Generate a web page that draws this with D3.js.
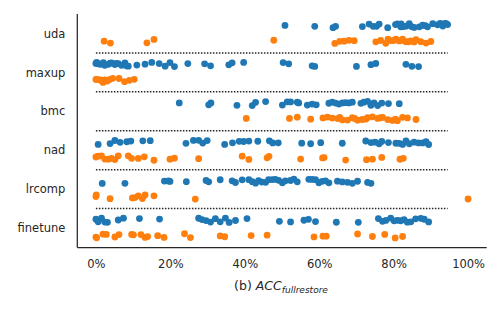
<!DOCTYPE html>
<html><head><meta charset="utf-8">
<script src="https://cdn.jsdelivr.net/npm/d3@7"></script>
<style>body{margin:0;background:#fff}svg{display:block}</style>
</head><body>
<svg id="c" width="500" height="309"></svg>
<script>
const categories = ["uda","maxup","bmc","nad","lrcomp","finetune"];
const seriesNames = ["blue","orange"];
const xTicks = [0,0.2,0.4,0.6,0.8,1.0];
// values in percent
const udaBlue = [50.8,58.8,63.7,64.4,71.6,73.4,74.5,75.4,76.1,78.4,80.5,81,81.9,82,82.5,83.3,84.2,84.8,85.5,86.9,87.8,88.5,89.1,90.5,91.8,92.5,93.2,93.8,94.1,94.5];
const udaOrange = [2.2,3.9,13.7,15.6,47.8,64.2,65.5,66.7,68,69.4,75.2,76.5,77.9,78.5,79.2,80,80.6,81.5,82,82.4,83.3,84,84.6,85.5,86,87.3,88.7,90];
const maxupBlue = [0,0.2,0.6,1,1.5,2,2.4,3.3,3.8,4.2,5.1,5.5,6,6.9,7.8,8.2,8.7,11,13.2,15,17,18.6,19.9,21.1,24.7,29.2,30.8,35.7,36.6,39.7,50.3,51.8,58.1,58.8,70,73.9,75.2,83.3,84.9,86.7];
const maxupOrange = [0,0.3,0.8,1.3,1.9,2.4,3,3.6,4.5,6.2,7.7,9.0,10.3];
const bmcBlue = [22.4,30.3,30.9,37.9,42,42.9,45.6,50.1,51.4,52.3,54.1,54.5,56.8,58.1,59.2,62.6,63.5,64.4,65.3,66.2,67.1,68,68.9,71.2,72,73,73.9,74.7,75.7,76.8,78.6,81.5];
const bmcOrange = [40.4,52,54.1,57.7,61,62.2,63.5,64.9,65.5,66.2,67.6,68.9,69.5,70.3,71.6,72.5,73,74.3,75.7,76.5,77,78.4,79.7,80.5,81,82.4,83.7,86];
const nadBlue = [0.6,3.8,5.1,6.5,8.3,9.4,12.6,14.6,24.2,26.2,27.6,28.7,29.9,34.6,36.7,38.5,39.7,41.1,43.5,46.6,47.5,49,55.3,57.7,60.4,66.2,72.5,73.9,75,76.1,76.8,78.6,80.6,81.5,82.4,83.3,84.2,85.5,86.7,87.8,88.7,89.4];
const nadOrange = [0,0.6,1.5,2.4,3.3,4.2,5.1,6,8.7,9.6,11.4,13,15.6,19.9,21.1,27.6,39.3,41.1,46,46.5,55,60.9,61.3,67.1,72.7,74.3,76.8,81.7,82.6];
const lrcompBlue = [1.7,7.8,18.4,19.5,19.9,24.3,29.6,30.3,33.4,36.6,37.5,39.3,41.1,42,42.9,43.7,44.6,45.6,46.4,47.4,48.2,49.1,50.1,50.9,52.3,53.2,54.1,57.2,58.1,59,59.9,60.8,61.7,62.6,64.9,66.2,67.6,68.9,70.3,73,73.9];
const lrcompOrange = [0,0.1,3.8,9.8,10.5,11.4,12.5,13.2,15.6,26.7,100];
const finetuneBlue = [0,0.6,1.5,2.4,3.1,6,7.4,11.7,17.1,27.6,28.5,29.6,30.8,32.1,33.4,34.8,35.8,37.5,40.6,49.3,52.3,55.9,57.1,59,64.6,70.5,75.9,77,77.9,79.2,80.1,81,81.9,82.8,83.7,84.6,85.9,87.3,88.2,89.4];
const finetuneOrange = [0,0.2,1.9,2.8,5.1,6.2,9.6,10.1,12.1,13.2,13.9,16.6,18.3,23.8,25.4,33.4,34.6,41.7,46,58.6,61,61.9,70.3,74.3,77.6,80.4,82.4];

const blueRows = [udaBlue,maxupBlue,bmcBlue,nadBlue,lrcompBlue,finetuneBlue];
const orangeRows = [udaOrange,maxupOrange,bmcOrange,nadOrange,lrcompOrange,finetuneOrange];

const colors = {blue:"#1f77b4", orange:"#ff7f0e"};
const svg = d3.select("#c");
const L=77.3, R=486.7, T=14, B=247.5;
const x = d3.scaleLinear().domain([-0.05,1.05]).range([L,R]);
const y = d3.scaleLinear().domain([-0.5,5.5]).range([T,B]);
const dodge = 0.2;

// dotted separators
const seps = d3.range(categories.length-1).map(i=>i+0.5);
svg.append("g").selectAll("line").data(seps).join("line")
  .attr("x1",x(0)).attr("x2",x(0.945))
  .attr("y1",d=>y(d)).attr("y2",d=>y(d))
  .attr("stroke","#262626").attr("stroke-width",1.5).attr("stroke-dasharray","1.5,1.5");

// points (deterministic jitter for visual spread only)
function hashJ(a,b,c){const s=Math.sin(a*12.9898+b*78.233+c*37.719)*43758.5453;return s-Math.floor(s)-0.5;}
const pts=[];
categories.forEach((c,ci)=>{
  [blueRows[ci],orangeRows[ci]].forEach((arr,si)=>{
    arr.forEach((v,k)=>{
      pts.push({cat:ci, s:seriesNames[si], v:v/100, j:hashJ(k+1,ci+1,si+1)*4.5});
    });
  });
});
svg.append("g").selectAll("circle").data(pts).join("circle")
  .attr("cx",d=>x(d.v))
  .attr("cy",d=>y(d.cat + (d.s==="blue"?-dodge:dodge)) + d.j)
  .attr("r",3.4)
  .attr("fill",d=>colors[d.s]);

// axes
const xAxis = d3.axisBottom(x).tickValues(xTicks).tickFormat(d3.format(".0%")).tickSize(0).tickPadding(12);
const gx = svg.append("g").attr("transform",`translate(0,${B})`).call(xAxis);
const yAxis = d3.axisLeft(y).tickValues(d3.range(categories.length)).tickFormat(i=>categories[i]).tickSize(0).tickPadding(12);
const gy = svg.append("g").attr("transform",`translate(${L},0)`).call(yAxis);
[gx,gy].forEach(g=>{
  g.selectAll("text").attr("font-family","DejaVu Sans").attr("font-size","11.5px").attr("fill","#262626");
  g.select(".domain").attr("stroke","#262626").attr("stroke-width",1.25);
});
gy.select(".domain").attr("d",`M0,${T}V${B}`);
gx.select(".domain").attr("d",`M${L},0H${R}`);

// x label
const lab = svg.append("text").attr("x",281).attr("y",290).attr("text-anchor","middle")
  .attr("font-family","DejaVu Sans").attr("font-size","12.5px").attr("fill","#262626");
lab.append("tspan").text("(b) ");
lab.append("tspan").attr("font-style","italic").text("ACC");
lab.append("tspan").attr("font-style","italic").attr("font-size","9px").attr("dy",3).text("fullrestore");
</script>
</body></html>
